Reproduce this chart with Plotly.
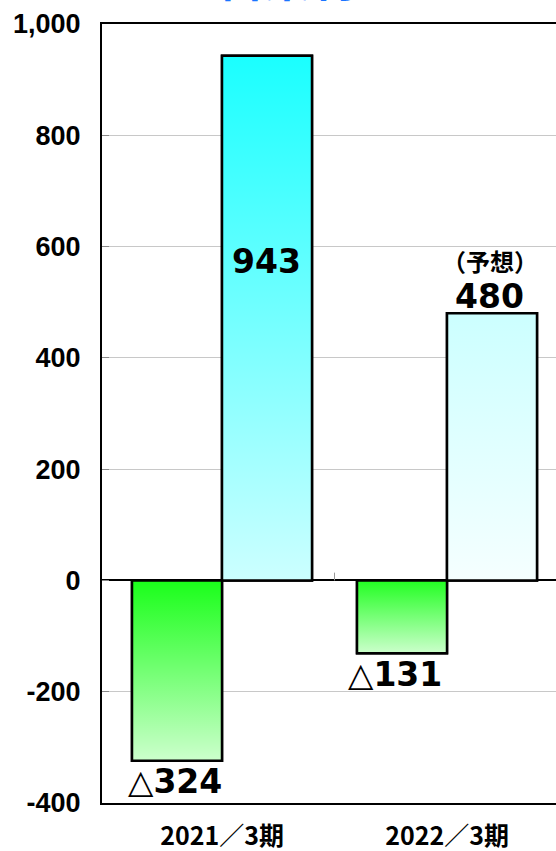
import plotly.graph_objects as go

# ---- data ----
categories = ["2021／3期", "2022／3期"]
prior_values = [-324, -131]      # green series (earlier period)
current_values = [943, 480]      # cyan series
forecast_note = ["", "（予想）"]
y_tick_vals = [-400, -200, 0, 200, 400, 600, 800, 1000]
y_tick_text = ["-400", "-200", "0", "200", "400", "600", "800", "1,000"]
title_text = "営業利益"

# ---- styles ----
green_grads = [["#CCFFCC", "#1AFF1A"], ["#CCFFCC", "#22FF22"]]
cyan_grads = [["#CCFFFF", "#1AFFFF"], ["#F5FFFF", "#CCFFFF"]]
BAR_W = 0.4
JP = "Noto Sans CJK JP"
LAB = "DejaVu Sans"

def fmt(v):
    return ("△" + str(abs(v))) if v < 0 else str(v)

xs = list(range(len(categories)))
fig = go.Figure()

# bar traces (outline + data)
fig.add_trace(go.Bar(x=xs, y=prior_values, width=BAR_W, offset=-BAR_W,
                     marker=dict(color="rgba(0,0,0,0)", line=dict(color="black", width=2.5)),
                     showlegend=False, hoverinfo="y"))
fig.add_trace(go.Bar(x=xs, y=current_values, width=BAR_W, offset=0,
                     marker=dict(color="rgba(0,0,0,0)", line=dict(color="black", width=2.5)),
                     showlegend=False, hoverinfo="y"))

# gradient fills drawn over the bars (same geometry, from the data)
def grad_rect(xc, left, val, cols):
    x0, x1 = xc + left, xc + left + BAR_W
    fig.add_trace(go.Scatter(
        x=[x0, x0, x1, x1, x0], y=[0, val, val, 0, 0], mode="lines",
        fill="toself",
        fillgradient=dict(type="vertical", colorscale=[[0, cols[0]], [1, cols[1]]]),
        line=dict(color="black", width=2.5), showlegend=False, hoverinfo="skip"))

for i, x in enumerate(xs):
    grad_rect(x, -BAR_W, prior_values[i], green_grads[i])
    grad_rect(x, 0, current_values[i], cyan_grads[i])

# category divider tick on zero line
fig.add_shape(type="line", x0=0.5, x1=0.5, y0=0, y1=14, xref="x", yref="y",
              line=dict(color="#999999", width=1))

ann = []
lab_font = dict(family=LAB, size=33, color="black", weight="bold")
ann.append(dict(x=xs[0] + 0.196, y=573, text=fmt(current_values[0]), showarrow=False, font=lab_font))
ann.append(dict(x=xs[0] - 0.209, y=-361, text=fmt(prior_values[0]), showarrow=False, font=lab_font))
ann.append(dict(x=xs[1] - 0.23, y=-169, text=fmt(prior_values[1]), showarrow=False, font=lab_font))
ann.append(dict(x=xs[1] + 0.19, y=510, text=fmt(current_values[1]), showarrow=False, font=lab_font))
ann.append(dict(x=xs[1] + 0.19, y=575, text=forecast_note[1], showarrow=False,
                font=dict(family=JP, size=24, color="black", weight="bold")))
# title (cut off at the top edge, as in the reference)
ann.append(dict(x=(310 - 102) / (556 - 102), xref="paper", y=1, yref="paper", text=title_text,
                showarrow=False, yanchor="bottom", xanchor="center", yshift=13,
                font=dict(family=JP, size=46, color="#1A75FF", weight="bold")))

fig.update_layout(
    width=556, height=851,
    margin=dict(l=102, r=0, t=24, b=48),
    plot_bgcolor="white", paper_bgcolor="white",
    barmode="overlay",
    annotations=ann,
    xaxis=dict(range=[-120 / 225, (556 - 222) / 225], tickvals=xs, ticktext=categories,
               showline=True, mirror=True, linecolor="black", linewidth=2,
               showgrid=False, zeroline=False, ticks="", ticklabelstandoff=10,
               tickfont=dict(family=JP, size=25, color="black", weight="bold")),
    yaxis=dict(range=[-400, 1000], tickvals=y_tick_vals, ticktext=y_tick_text,
               showline=True, linecolor="black", linewidth=2,
               showgrid=True, gridcolor="#C8C8C8", gridwidth=1,
               zeroline=True, zerolinecolor="black", zerolinewidth=1.5,
               ticks="inside", ticklen=7, tickcolor="#888888", ticklabelstandoff=14,
               tickfont=dict(family="Liberation Sans", size=27, color="black", weight="bold")),
)

fig.write_html("out.html", config={"displayModeBar": False},
               post_script="document.body.style.margin='0';")
